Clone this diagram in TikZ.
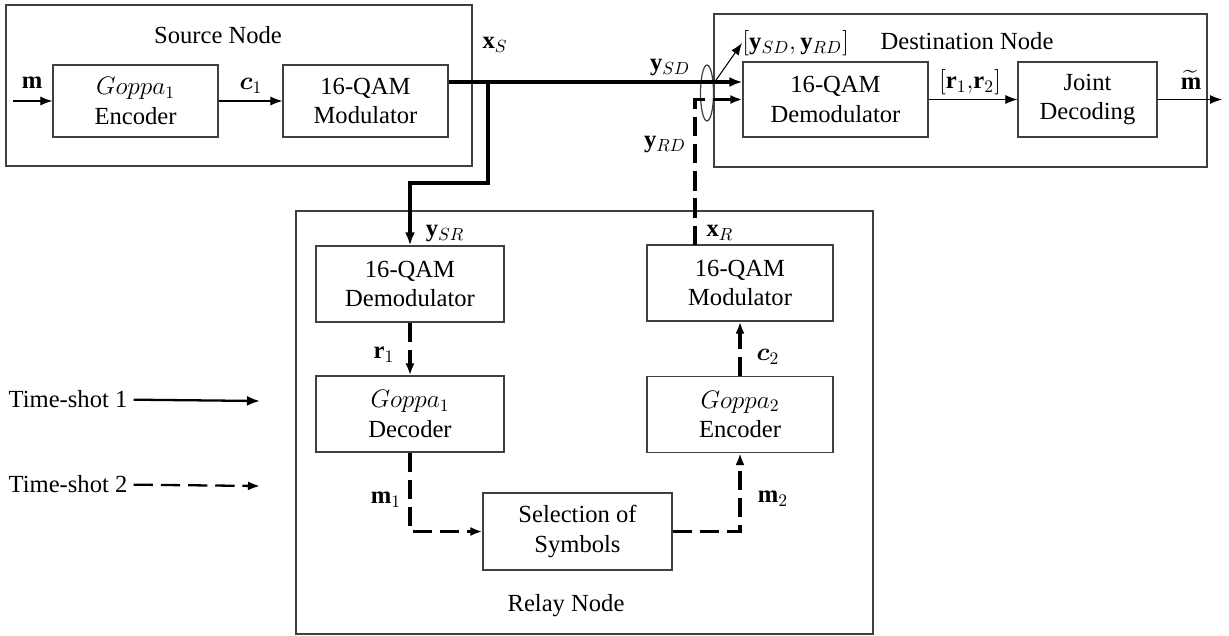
\documentclass[tikz,border=0pt]{standalone}
\usepackage{fontspec}
\setmainfont{Liberation Serif}
\usepackage{amsmath}
\usepackage{bm}
\usetikzlibrary{arrows.meta,shapes.geometric}
\begin{document}
\begin{tikzpicture}[x=0.02cm,y=-0.02cm,font=\fontsize{14}{17}\selectfont]
			\tikzset{frame/.style={draw=black!75, line width=0.7pt, inner sep=0}}
			\tikzset{block/.style={draw=black!75, line width=0.7pt, align=center, inner sep=0, minimum width=3.3cm, minimum height=1.44cm}}
			\tikzset{thinarrow/.style={line width=0.6pt, -{Latex[length=2.4mm,width=1.8mm]}}}
			\tikzset{thickarrow/.style={line width=2pt, -{Latex[length=2.6mm,width=2mm]}}}
			\tikzset{dasharrow/.style={line width=1.8pt, dash pattern=on 11pt off 4.5pt, -{Latex[length=2.4mm,width=1.8mm]}}}
			\tikzset{invisible/.style={outer sep=0,inner sep=0,minimum size=0}}
			\useasboundingbox (0,0) rectangle (1229,635);
			% frames of the three nodes
			\node [frame, minimum width=9.32cm, minimum height=3.22cm] (src) at (239,85.5) {};
			\node [frame, minimum width=9.86cm, minimum height=3.06cm] (dst) at (960.5,90.5) {};
			\node [frame, minimum width=11.54cm, minimum height=8.46cm] (rel) at (584.5,422.5) {};
			\node (srcname) at (218,35) {Source Node};
			\node (dstname) at (967,41) {Destination Node};
			\node (relname) at (566,606) {Relay Node};
			% source
			\node [block] (enc1) at (135.5,101) {$Goppa_1$\\Encoder};
			\node [block] (mod1) at (365.5,101) {16-QAM\\Modulator};
			% destination
			\node [block, minimum width=3.7cm, minimum height=1.5cm] (demD) at (835.5,99.5) {16-QAM\\Demodulator};
			\node [block, minimum width=2.78cm, minimum height=1.5cm] (joint) at (1087.5,99.5) {Joint\\Decoding};
			% relay
			\node [block, minimum width=3.76cm, minimum height=1.52cm] (demR) at (410,284) {16-QAM\\Demodulator};
			\node [block, minimum width=3.72cm, minimum height=1.52cm] (modR) at (740,283) {16-QAM\\Modulator};
			\node [block, minimum width=3.76cm, minimum height=1.52cm] (dec1) at (410,414) {$Goppa_1$\\Decoder};
			\node [block, minimum width=3.72cm, minimum height=1.52cm] (enc2) at (740,414.5) {$Goppa_2$\\Encoder};
			\node [block, minimum width=3.78cm, minimum height=1.54cm] (sel) at (577.5,531.5) {Selection of\\Symbols};
			% labels
			\node (lm) at (32,83) {$\mathbf{m}$};
			\node (lc1) at (251,86) {$\bm{c}_1$};
			\node (lxs) at (495,45) {$\mathbf{x}_S$};
			\node (lysd) at (670,68) {$\mathbf{y}_{SD}$};
			\node (lyrd) at (665,145) {$\mathbf{y}_{RD}$};
			\node (lysr) at (445,234) {$\mathbf{y}_{SR}$};
			\node (lxr) at (720,233) {$\mathbf{x}_R$};
			\node (lr1) at (384,355) {$\mathbf{r}_1$};
			\node (lc2) at (768,357) {$\bm{c}_2$};
			\node (lm1) at (386,500) {$\mathbf{m}_1$};
			\node (lm2) at (773,499) {$\mathbf{m}_2$};
			\node (lr12) at (970,82) {$[\mathbf{r}_1,\!\mathbf{r}_2]$};
			\node (lmt) at (1191,80) {$\widetilde{\mathbf{m}}$};
			\node [anchor=west, inner sep=0] (lpair) at (742,43) {$[\mathbf{y}_{SD},\mathbf{y}_{RD}]$};
			\node [draw=black!75, line width=0.7pt, ellipse, minimum width=0.26cm, minimum height=1.12cm, inner sep=0] (bund) at (707,93) {};
			% time-shot legend
			\node (ts1) at (68,399) {Time-shot 1};
			\node (ts2) at (68,484) {Time-shot 2};
			\node [invisible] (ts1end) at (260,401) {};
			\node [invisible] (ts2end) at (260,486) {};
			\draw [thickarrow, line width=1.3pt] (ts1) -- (ts1end);
			\draw [dasharrow, line width=1.3pt] (ts2) -- (ts2end);
			% connectors
			\node [invisible] (min) at (13,101) {};
			\node [invisible] (mout) at (1222,99.5) {};
			\node [invisible] (br) at (488,82) {};
			\node [invisible] (xr) at (695,245) {};
			\draw [thinarrow] (min) -- (enc1);
			\draw [thinarrow] (enc1) -- (mod1);
			\draw [thickarrow] (mod1.east |- 0,82) -- (demD.west |- 0,82);
			\draw [thickarrow] (br) -- ++(0,101) -| (demR.north);
			\draw [dasharrow] (xr) |- (demD.west);
			\draw [thinarrow] (bund.55) -- (lpair.west);
			\draw [thinarrow] (demD) -- (joint);
			\draw [thinarrow] (joint) -- (mout);
			\draw [dasharrow] (demR) -- (dec1);
			\draw [dasharrow] (dec1) |- (sel);
			\draw [dasharrow] (sel) -| (enc2);
			\draw [dasharrow] (enc2) -- (modR);
\end{tikzpicture}
\end{document}
